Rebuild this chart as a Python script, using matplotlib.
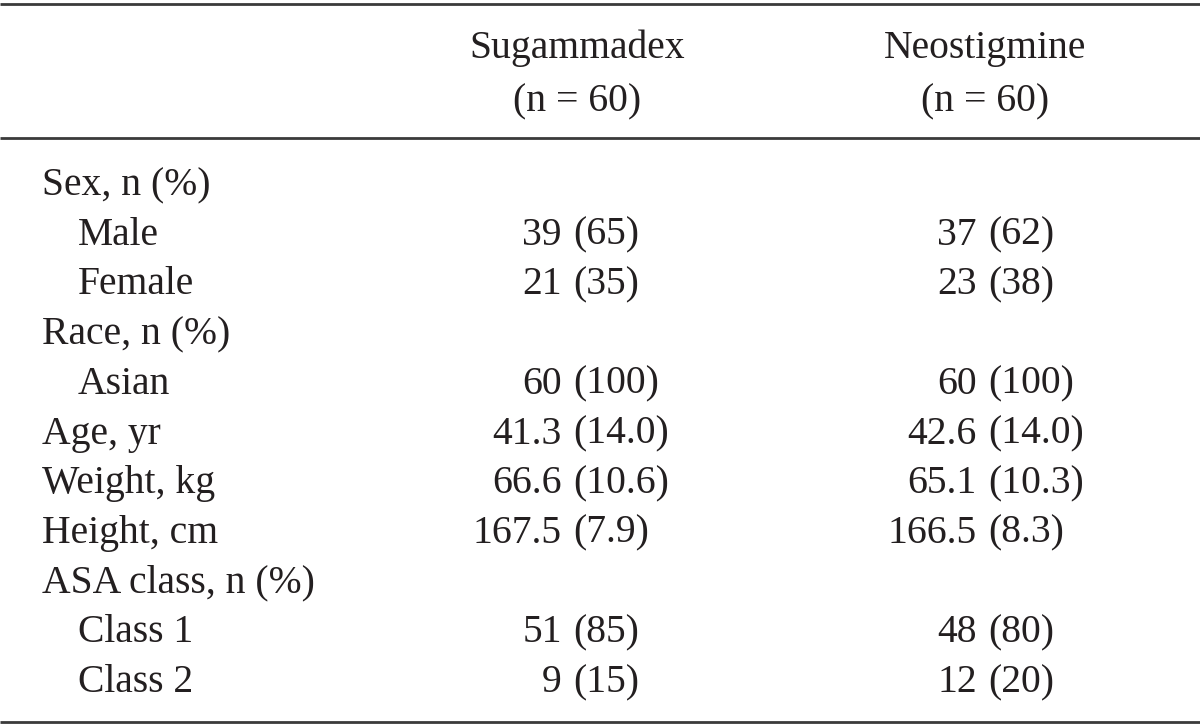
import matplotlib.pyplot as plt

# table content
groups = ['Sugammadex', 'Neostigmine']
group_n = ['(n = 60)', '(n = 60)']
row_labels = ['Sex, n (%)', 'Male', 'Female', 'Race, n (%)', 'Asian',
              'Age, yr', 'Weight, kg', 'Height, cm', 'ASA class, n (%)',
              'Class 1', 'Class 2']
indented = [False, True, True, False, True,
            False, False, False, False, True, True]
sugammadex = ['', '39 (65)', '21 (35)', '', '60 (100)',
              '41.3 (14.0)', '66.6 (10.6)', '167.5 (7.9)', '',
              '51 (85)', '9 (15)']
neostigmine = ['', '37 (62)', '23 (38)', '', '60 (100)',
               '42.6 (14.0)', '65.1 (10.3)', '166.5 (8.3)', '',
               '48 (80)', '12 (20)']

plt.rcParams['font.family'] = ['Liberation Serif', 'DejaVu Serif']
FS = 28.5
INK = '#231f20'

fig = plt.figure(figsize=(12, 7.25), dpi=100)
ax = fig.add_axes([0, 0, 1, 1])
ax.set_xlim(0, 1200)
ax.set_ylim(725, 0)
ax.axis('off')

# rules
for y in (4, 138, 722):
    ax.plot([0, 1200], [y, y], color='#3a3a3a', lw=2.0,
            solid_capstyle='butt')

# header
col_center = [577, 985]
for cx, g, n in zip(col_center, groups, group_n):
    ax.text(cx, 58, g, ha='center', va='baseline', fontsize=FS, color=INK)
    ax.text(cx, 111, n, ha='center', va='baseline', fontsize=FS, color=INK)

# body, values aligned on the opening parenthesis
paren_x = [573, 988]
first_base, step = 195, 49.7
for i, lab in enumerate(row_labels):
    yb = first_base + i * step
    ax.text(78 if indented[i] else 42, yb, lab, ha='left', va='baseline',
            fontsize=FS, color=INK)
    for px, col in zip(paren_x, (sugammadex, neostigmine)):
        val = col[i]
        if not val:
            continue
        num, rest = val.split(' (')
        ax.annotate(num, (px, yb), xytext=(-8, 0), textcoords='offset points',
                    ha='right', va='baseline', fontsize=FS, color=INK)
        ax.text(px, yb, '(' + rest, ha='left', va='baseline',
                fontsize=FS, color=INK)

fig.savefig('out.png', dpi=100)
